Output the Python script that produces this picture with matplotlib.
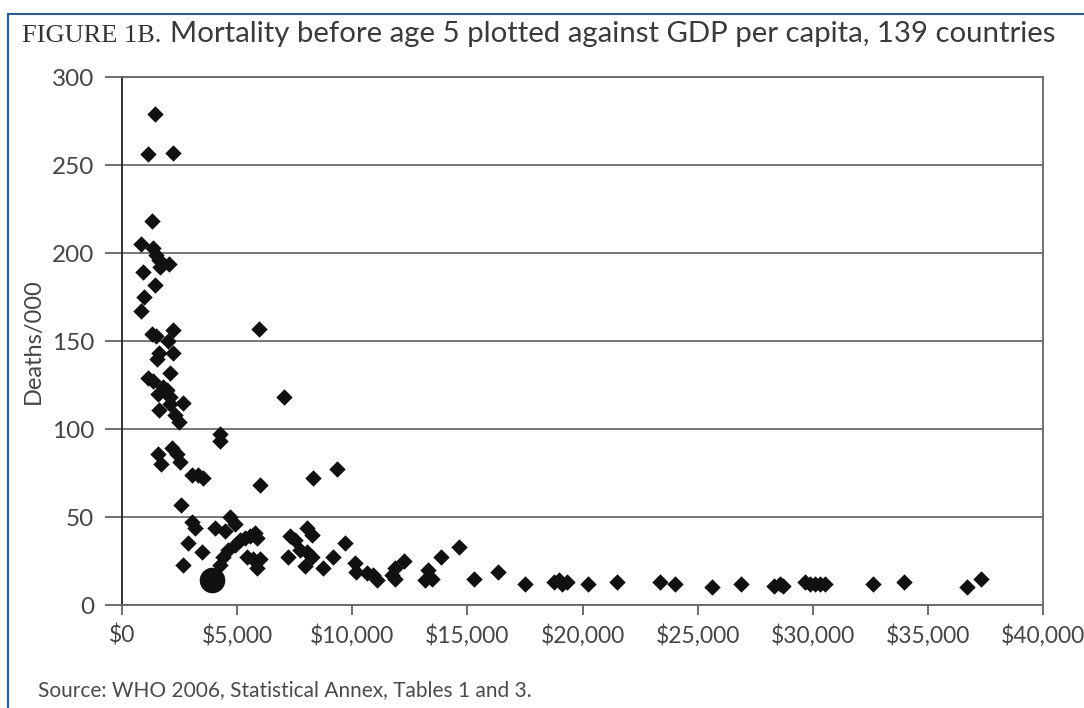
import matplotlib
matplotlib.use("Agg")
import matplotlib.pyplot as plt
from matplotlib.lines import Line2D

# GDP per capita (US$) and under-5 mortality (deaths per 1000)
gdp = [1432, 1128, 2213, 1302, 824, 1345, 1475, 1605, 1649, 2039, 911, 1432, 954, 824,
       1302, 1475, 2213, 1996, 1605, 1518, 2213, 1128, 1345, 2083, 1779, 1562, 1952, 2083,
       2646, 1605, 2083, 2300, 2473,
       5944, 7050,
       4252, 4252, 1562, 1692, 2170, 2386, 2516, 3037, 3297, 3514, 5987, 2560, 3037, 3167,
       4685, 4902, 4035, 4469, 2863, 3471, 2646,
       4252, 4382, 4599, 4902, 5119, 5336, 5553, 5770, 5857, 5423, 5683, 5987, 5857,
       8286, 9328,
       7288, 7505, 8026, 8243, 7202, 7722, 8026, 8243, 7939, 8720, 9154, 9675, 10108, 10152,
       10629, 10889, 11063, 11714, 11844, 12234, 11844, 13145, 13275, 13449, 13840, 14620,
       15271, 16312, 17484,
       18742, 18959, 19089, 19306, 20260, 21518, 23384, 24035, 25640, 26898, 28330, 28590,
       28720, 29652, 29870, 30091, 30312, 30533, 32625, 33948, 36703, 37310]
mortality = [279, 256, 257, 218, 205, 203, 199, 196, 192, 194, 189, 182, 175, 167,
             154, 153, 156, 150, 143, 140, 143, 129, 127, 132, 124, 120, 122, 118,
             115, 111, 114, 108, 104,
             157, 118,
             97, 93, 86, 80, 89, 86, 81, 74, 74, 72, 68, 57, 47, 44,
             50, 46, 44, 42, 35, 30, 23,
             23, 27, 31, 34, 37, 38, 39, 41, 38, 27, 26, 26, 21,
             72, 77,
             39, 37, 44, 40, 27, 31, 30, 27, 22, 21, 27, 35, 24, 19,
             18, 17, 14, 17, 21, 25, 15, 14, 20, 15, 27, 33,
             15, 19, 12,
             13, 14, 12, 13, 12, 13, 13, 12, 10, 12, 11, 12,
             11, 13, 12, 12, 12, 12, 12, 13, 10, 15]
highlight_gdp = [3904]
highlight_mortality = [14]

x_ticks = [0, 5000, 10000, 15000, 20000, 25000, 30000, 35000, 40000]
x_labels = ["$0", "$5,000", "$10,000", "$15,000", "$20,000", "$25,000",
            "$30,000", "$35,000", "$40,000"]
y_ticks = [0, 50, 100, 150, 200, 250, 300]
y_labels = ["0", "50", "100", "150", "200", "250", "300"]

SANS = ["Lato", "DejaVu Sans"]
TXT = "#454545"
W = "normal"

fig = plt.figure(figsize=(10.84, 7.08), dpi=100)
ax = fig.add_axes([122 / 1084, 1 - 605 / 708, (1043 - 122) / 1084, (605 - 77) / 708])

ax.set_xlim(0, 40000)
ax.set_ylim(0, 300)
ax.set_xticks(x_ticks)
ax.set_xticklabels(x_labels, fontsize=16.5, color=TXT, family=SANS, weight=W)
ax.set_yticks(y_ticks)
ax.set_yticklabels(y_labels, fontsize=17.5, color=TXT, family=SANS, weight=W)
ax.tick_params(axis="x", direction="out", length=7, width=1.2, color="#555555", pad=7)
ax.tick_params(axis="y", direction="out", length=12, width=1.2, color="#555555", pad=8)
ax.yaxis.grid(True, color="#777777", linewidth=1.4)
ax.set_axisbelow(True)
for side in ["top", "right", "bottom"]:
    ax.spines[side].set_color("#666666")
    ax.spines[side].set_linewidth(1.3)
ax.spines["left"].set_color("#222222")
ax.spines["left"].set_linewidth(1.3)

ax.scatter(gdp, mortality, marker="D", s=70, color="#111111", linewidths=0, zorder=3)
ax.scatter(highlight_gdp, highlight_mortality, marker="o", s=340, color="#111111",
           linewidths=0, zorder=4)

ax.set_ylabel("Deaths/000", fontsize=17, color=TXT, family=SANS, weight=W, labelpad=6)

fig.text(22 / 1084, 1 - 42 / 708, "FIGURE 1B.", fontsize=19, color="#333333",
         family=["Liberation Serif", "DejaVu Serif"], ha="left", va="baseline")
fig.text(170 / 1084, 1 - 42 / 708,
         "Mortality before age 5 plotted against GDP per capita, 139 countries",
         fontsize=21.2, color="#3a3a3a", family=SANS, weight=W, ha="left", va="baseline")
fig.text(38 / 1084, 1 - 696 / 708, "Source: WHO 2006, Statistical Annex, Tables 1 and 3.",
         fontsize=15, color="#4a4a4a", family=SANS, weight=W, ha="left", va="baseline")

frame_col = "#2b5a8a"
fig.add_artist(Line2D([8 / 1084, 1.0], [1 - 14 / 708, 1 - 14 / 708],
                      transform=fig.transFigure, color=frame_col, linewidth=1.5))
fig.add_artist(Line2D([8 / 1084, 8 / 1084], [0, 1 - 14 / 708],
                      transform=fig.transFigure, color=frame_col, linewidth=1.5))

fig.savefig("out.png", dpi=100, facecolor="white")
